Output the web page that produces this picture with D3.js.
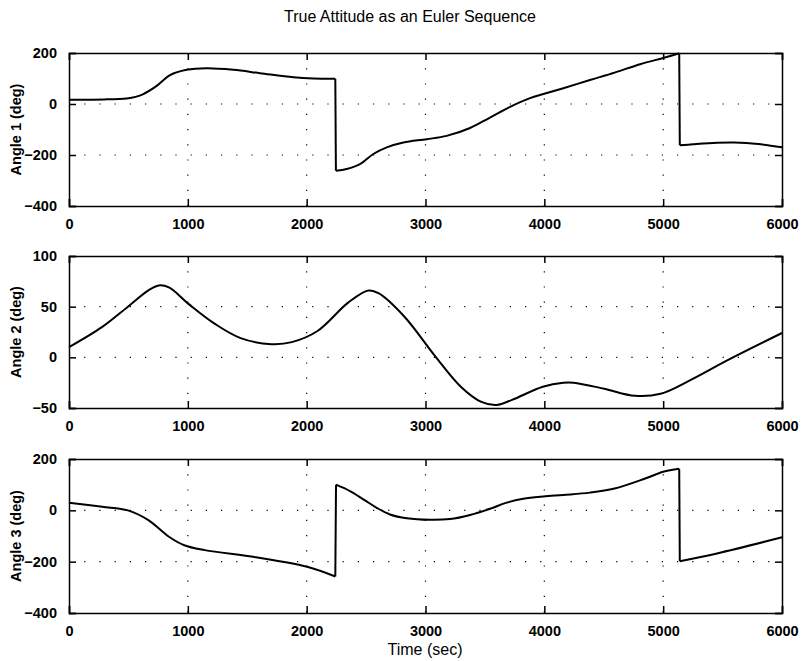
<!DOCTYPE html>
<html>
<head>
<meta charset="utf-8">
<script src="https://cdnjs.cloudflare.com/ajax/libs/d3/7.8.5/d3.min.js"></script>
<style>
  body { margin: 0; background: #fff; }
  text { font-family: "Liberation Sans", Arial, sans-serif; fill: #000; }
</style>
</head>
<body>
<div id="chart"></div>
<script>
const globalWidth = 804;
const globalHeight = 661;

const titleText = "True Attitude as an Euler Sequence";
const xLabelText = "Time (sec)";
const xTicks = [0, 1000, 2000, 3000, 4000, 5000, 6000];

// Angle 1 (deg)
const angle1Time = [0, 300, 486, 560, 626, 738, 850, 990, 1159, 1383, 1608, 1888, 2056, 2241, 2246, 2337, 2449, 2561, 2674, 2814, 3010, 3178, 3375, 3543, 3712, 3880, 3992, 4160, 4384, 4591, 4806, 5022, 5135, 5140, 5250, 5453, 5600, 5800, 6000];
const angle1Value = [17, 18, 22, 28, 39, 71, 113, 134, 140, 134, 121, 105, 100, 99, -262, -255, -236, -196, -170, -151, -138, -125, -94, -53, -11, 23, 39, 62, 94, 123, 156, 183, 199, -162, -158, -152, -151, -157, -170];
const angle1Ticks = [-400, -200, 0, 200];

// Angle 2 (deg)
const angle2Time = [0, 280, 496, 668, 754, 841, 1013, 1228, 1444, 1703, 1875, 2091, 2349, 2520, 2608, 2823, 3082, 3297, 3470, 3600, 3728, 3987, 4160, 4246, 4504, 4763, 4978, 5237, 5539, 6000];
const angle2Value = [10, 30, 50, 66, 71, 69, 52, 33, 19, 13, 15, 26, 54, 66, 63, 40, 1, -29, -44, -47, -42, -29, -25, -25, -31, -38, -36, -22, -3, 24];
const angle2Ticks = [-50, 0, 50, 100];

// Angle 3 (deg)
const angle3Time = [0, 280, 496, 668, 841, 970, 1142, 1573, 2004, 2241, 2247, 2365, 2477, 2589, 2701, 2842, 3038, 3206, 3375, 3543, 3683, 3823, 3991, 4159, 4384, 4591, 4849, 5000, 5135, 5140, 5453, 6000];
const angle3Value = [30, 14, 0, -38, -103, -136, -155, -183, -220, -258, 100, 75, 43, 10, -16, -31, -37, -34, -18, 6, 30, 45, 54, 60, 69, 85, 124, 150, 162, -198, -168, -105];
const angle3Ticks = [-400, -200, 0, 200];

const plotLeft = 69;
const plotRight = 782;

const svg = d3.select("#chart")
  .append("svg")
  .attr("width", globalWidth)
  .attr("height", globalHeight);

svg.append("rect")
  .attr("width", globalWidth)
  .attr("height", globalHeight)
  .attr("fill", "#fff");

svg.append("text")
  .attr("x", 410)
  .attr("y", 22)
  .attr("text-anchor", "middle")
  .style("font-size", "16px")
  .text(titleText);

var x = d3.scaleLinear()
  .domain([0, 6000])
  .range([plotLeft, plotRight]);

// split a series where the angle wraps (two samples a few seconds apart)
function segments(times, values) {
  var segs = [];
  var cur = [];
  times.forEach((t, i) => {
    if (i > 0 && t - times[i - 1] < 20) {
      var jump = [[times[i - 1], values[i - 1]], [t, values[i]]];
      segs.push({ pts: cur, smooth: true });
      segs.push({ pts: jump, smooth: false });
      cur = [];
    }
    cur.push([t, values[i]]);
  });
  segs.push({ pts: cur, smooth: true });
  return segs;
}

function drawPanel(top, bottom, times, values, yTicks, label) {
  var y = d3.scaleLinear()
    .domain([yTicks[0], yTicks[yTicks.length - 1]])
    .range([bottom, top]);

  var g = svg.append("g");

  // dotted grid (sparse dots like the printed original)
  g.selectAll(".vgrid")
    .data(xTicks.slice(1, -1))
    .enter()
    .append("line")
      .attr("x1", d => x(d)).attr("x2", d => x(d))
      .attr("y1", top).attr("y2", bottom)
      .attr("stroke", "#000")
      .attr("stroke-width", 1.2)
      .attr("stroke-dasharray", "1.2,14");
  g.selectAll(".hgrid")
    .data(yTicks.slice(1, -1))
    .enter()
    .append("line")
      .attr("x1", plotLeft).attr("x2", plotRight)
      .attr("y1", d => y(d)).attr("y2", d => y(d))
      .attr("stroke", "#000")
      .attr("stroke-width", 1.2)
      .attr("stroke-dasharray", "1.2,14");

  // axes, ticks pointing inwards on all four sides
  g.append("g")
    .attr("transform", "translate(0," + bottom + ")")
    .call(d3.axisBottom(x).tickValues(xTicks).tickSize(-7).tickPadding(13).tickFormat(d3.format("d")));
  g.append("g")
    .attr("transform", "translate(0," + top + ")")
    .call(d3.axisTop(x).tickValues(xTicks).tickSize(-7).tickFormat(""));
  g.append("g")
    .attr("transform", "translate(" + plotLeft + ",0)")
    .call(d3.axisLeft(y).tickValues(yTicks).tickSize(-7).tickPadding(12).tickFormat(d3.format("d")));
  g.append("g")
    .attr("transform", "translate(" + plotRight + ",0)")
    .call(d3.axisRight(y).tickValues(yTicks).tickSize(-7).tickFormat(""));

  g.selectAll(".domain")
    .attr("stroke", "#000")
    .attr("stroke-width", 1.5);
  g.selectAll(".tick line")
    .attr("stroke", "#000")
    .attr("stroke-width", 1.5);
  g.selectAll(".tick text")
    .style("font-size", "14.5px")
    .style("font-weight", "bold")
    .style("font-family", "'Liberation Sans', Arial, sans-serif");

  g.append("text")
    .attr("transform", "translate(21," + ((top + bottom) / 2) + ") rotate(-90)")
    .attr("text-anchor", "middle")
    .style("font-size", "14.5px")
    .style("font-weight", "bold")
    .text(label);

  var smoothLine = d3.line()
    .x(d => x(d[0]))
    .y(d => y(d[1]))
    .curve(d3.curveCatmullRom.alpha(0.5));
  var straightLine = d3.line()
    .x(d => x(d[0]))
    .y(d => y(d[1]));

  g.selectAll(".curve")
    .data(segments(times, values))
    .enter()
    .append("path")
      .attr("d", d => d.smooth ? smoothLine(d.pts) : straightLine(d.pts))
      .attr("fill", "none")
      .attr("stroke", "#000")
      .attr("stroke-width", 2)
      .attr("stroke-linejoin", "round");
}

drawPanel(53, 206, angle1Time, angle1Value, angle1Ticks, "Angle 1 (deg)");
drawPanel(256, 408, angle2Time, angle2Value, angle2Ticks, "Angle 2 (deg)");
drawPanel(459, 613, angle3Time, angle3Value, angle3Ticks, "Angle 3 (deg)");

svg.append("text")
  .attr("x", 425)
  .attr("y", 655)
  .attr("text-anchor", "middle")
  .style("font-size", "16px")
  .text(xLabelText);
</script>
</body>
</html>
